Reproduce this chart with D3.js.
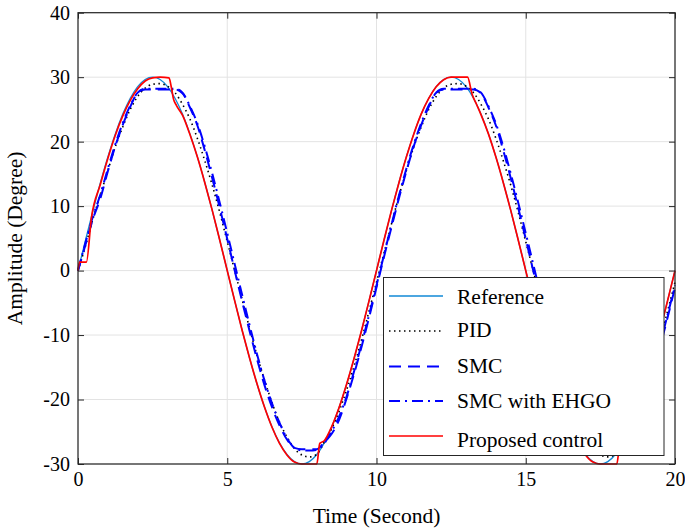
<!DOCTYPE html>
<html><head><meta charset="utf-8">
<script src="https://cdn.jsdelivr.net/npm/d3@7"></script>
<style>
html,body{margin:0;padding:0;background:#fff;}
svg{display:block;}
text{font-family:"Liberation Serif","Times New Roman",serif;fill:#000;}
</style></head>
<body>
<svg id="chart" width="685" height="532"></svg>
<script>
// ---- data ----
const xTicks = [0, 5, 10, 15, 20];
const xTickLabels = ["0", "5", "10", "15", "20"];
const yTicks = [-30, -20, -10, 0, 10, 20, 30, 40];
const yTickLabels = ["-30", "-20", "-10", "0", "10", "20", "30", "40"];
const seriesNames = ["Reference", "PID", "SMC", "SMC with EHGO", "Proposed control"];

const time = [0,0.25,0.5,0.75,1,1.25,1.5,1.75,2,2.25,2.5,2.75,3,3.25,3.5,3.75,4,4.25,4.5,4.75,
  5,5.25,5.5,5.75,6,6.25,6.5,6.75,7,7.25,7.5,7.75,8,8.25,8.5,8.75,9,9.25,9.5,9.75,
  10,10.25,10.5,10.75,11,11.25,11.5,11.75,12,12.25,12.5,12.75,13,13.25,13.5,13.75,14,14.25,14.5,14.75,
  15,15.25,15.5,15.75,16,16.25,16.5,16.75,17,17.25,17.5,17.75,18,18.25,18.5,18.75,19,19.25,19.5,19.75,20];

const reference = [0,4.69,9.27,13.62,17.63,21.21,24.27,26.73,28.53,29.63,30,29.63,28.53,26.73,24.27,21.21,17.63,13.62,9.27,4.69,
  0,-4.69,-9.27,-13.62,-17.63,-21.21,-24.27,-26.73,-28.53,-29.63,-30,-29.63,-28.53,-26.73,-24.27,-21.21,-17.63,-13.62,-9.27,-4.69,
  0,4.69,9.27,13.62,17.63,21.21,24.27,26.73,28.53,29.63,30,29.63,28.53,26.73,24.27,21.21,17.63,13.62,9.27,4.69,
  0,-4.69,-9.27,-13.62,-17.63,-21.21,-24.27,-26.73,-28.53,-29.63,-30,-29.63,-28.53,-26.73,-24.27,-21.21,-17.63,-13.62,-9.27,-4.69,0];

const pid = [0,3.8,8.0,11.8,15.5,19.2,22.3,25.0,27.0,28.3,28.9,29.0,28.6,27.6,25.8,23.5,20.5,17.0,13.2,9.0,
  4.5,0,-4.5,-9.0,-13.2,-17.0,-20.5,-23.5,-25.8,-27.6,-28.6,-28.9,-28.5,-26.6,-24.5,-21.8,-18.5,-14.8,-10.7,-6.3,
  -1.8,2.7,7.2,11.5,15.5,19.2,22.3,25.0,27.0,28.3,28.9,29.0,28.6,27.6,25.8,23.5,20.5,17.0,13.2,9.0,
  4.5,0,-4.5,-9.0,-13.2,-17.0,-20.5,-23.5,-25.8,-27.6,-28.6,-28.9,-28.5,-26.6,-24.5,-21.8,-18.5,-14.8,-10.7,-6.3,-1.8];

const smc = [0,4.0,8.0,11.2,15.4,19.3,22.6,25.4,27.6,28.1,28.1,28.1,28.1,28.1,27.5,25.3,22.5,18.6,14.3,9.7,
  4.9,0,-4.8,-9.4,-13.8,-17.8,-21.2,-24.0,-26.2,-27.5,-27.7,-27.7,-27.7,-26.6,-25.3,-23.1,-19.8,-16.0,-11.8,-7.3,
  -2.6,2.1,6.7,11.2,15.4,19.3,22.6,25.4,27.6,28.1,28.1,28.1,28.1,28.1,27.5,25.3,22.5,18.6,14.3,9.7,
  4.9,0,-4.8,-9.4,-13.8,-17.8,-21.2,-24.0,-26.2,-27.5,-27.7,-27.7,-27.7,-26.6,-25.3,-23.1,-19.8,-16.0,-11.8,-7.3,-2.6];

const smcEhgo = [0,4.3,8.4,11.8,15.8,19.6,22.9,25.6,27.6,28.2,28.2,28.2,28.2,28.2,27.6,25.5,22.8,19.2,15.0,10.5,
  5.8,1.0,-3.8,-8.5,-13.0,-17.1,-20.6,-23.6,-26.0,-27.5,-27.9,-27.9,-27.8,-26.8,-24.9,-22.6,-19.5,-15.6,-11.4,-6.9,
  -2.3,2.4,7.1,11.6,15.8,19.6,22.9,25.6,27.6,28.2,28.2,28.2,28.2,28.2,27.6,25.5,22.8,19.2,15.0,10.5,
  5.8,1.0,-3.8,-8.5,-13.0,-17.1,-20.6,-23.6,-26.0,-27.5,-27.9,-27.9,-27.8,-26.8,-24.9,-22.6,-19.5,-15.6,-11.4,-6.9,-2.3];

const proposedTime = [0,0.05,0.28,0.45,0.75,1,1.25,1.5,1.75,2,2.25,2.5,2.75,3.05,3.12,3.2,3.3,3.5,3.75,4,4.25,4.5,4.75,
  5,5.25,5.5,5.75,6,6.25,6.5,6.75,7,7.25,7.5,7.75,8.0,8.1,8.25,8.5,8.75,9,9.25,9.5,9.75,
  10,10.25,10.5,10.75,11,11.25,11.5,11.75,12,12.25,12.5,12.75,13.05,13.2,13.35,13.5,13.75,14,14.25,14.5,14.75,
  15,15.25,15.5,15.75,16,16.25,16.5,16.75,17,17.25,17.5,17.75,18.05,18.15,18.3,18.5,18.75,19,19.25,19.5,19.75,20];
const proposed = [0,1.3,1.3,8.2,13.4,17.4,21.0,24.0,26.4,28.2,29.4,29.9,30.0,29.9,28.6,26.6,25.6,24.1,21.1,17.6,13.6,9.3,4.7,
  0,-4.7,-9.3,-13.6,-17.6,-21.2,-24.3,-26.8,-28.6,-29.7,-30,-30,-30,-26.8,-26.4,-24.2,-21.2,-17.6,-13.6,-9.3,-4.7,
  0,4.7,9.3,13.6,17.6,21.2,24.3,26.7,28.5,29.6,30,30,30,27.4,25.8,24.2,21.2,17.6,13.6,9.3,4.7,
  0,-4.7,-9.3,-13.6,-17.6,-21.2,-24.3,-26.8,-28.6,-29.7,-30,-30,-30,-26.9,-26.0,-24.2,-21.2,-17.6,-13.6,-9.3,-4.7,0];

// ---- drawing ----
const svg = d3.select("#chart");
const L = 78, R = 675, T = 12.7, B = 464;
const x = d3.scaleLinear().domain([0, 20]).range([L, R]);
const y = d3.scaleLinear().domain([-30, 40]).range([B, T]);

// grid
const grid = svg.append("g").attr("stroke", "#e3e3e3").attr("stroke-width", 1);
xTicks.forEach(t => grid.append("line").attr("x1", x(t)).attr("x2", x(t)).attr("y1", T).attr("y2", B));
yTicks.forEach(t => grid.append("line").attr("x1", L).attr("x2", R).attr("y1", y(t)).attr("y2", y(t)));

// lines
const styles = [
  {color: "#1189d6", width: 1.3, dash: null},
  {color: "#000000", width: 1.6, dash: "1.5,3.5"},
  {color: "#0000ff", width: 2.0, dash: "12,7"},
  {color: "#0000ff", width: 2.0, dash: "11,5,2,5"},
  {color: "#ff0000", width: 1.7, dash: null}
];
const seriesData = [
  d3.zip(time, reference),
  d3.zip(time, pid),
  d3.zip(time, smc),
  d3.zip(time, smcEhgo),
  d3.zip(proposedTime, proposed)
];
const line = d3.line().x(d => x(d[0])).y(d => y(d[1])).curve(d3.curveMonotoneX);
const plot = svg.append("g");
seriesData.forEach((data, i) => {
  const p = plot.append("path").datum(data).attr("d", line)
    .attr("fill", "none").attr("stroke", styles[i].color)
    .attr("stroke-width", styles[i].width).attr("stroke-linejoin", "round");
  if (styles[i].dash) p.attr("stroke-dasharray", styles[i].dash);
});

// axes (inward ticks, box)
const fontTick = 20;
const xAxis = svg.append("g").attr("transform", `translate(0,${B})`)
  .call(d3.axisBottom(x).tickValues(xTicks).tickFormat((d, i) => xTickLabels[i]).tickSizeInner(-6).tickSizeOuter(0).tickPadding(8));
const xAxisTop = svg.append("g").attr("transform", `translate(0,${T})`)
  .call(d3.axisTop(x).tickValues(xTicks).tickFormat("").tickSizeInner(-6).tickSizeOuter(0));
const yAxis = svg.append("g").attr("transform", `translate(${L},0)`)
  .call(d3.axisLeft(y).tickValues(yTicks).tickFormat((d, i) => yTickLabels[i]).tickSizeInner(-6).tickSizeOuter(0).tickPadding(8));
const yAxisRight = svg.append("g").attr("transform", `translate(${R},0)`)
  .call(d3.axisRight(y).tickValues(yTicks).tickFormat("").tickSizeInner(-6).tickSizeOuter(0));
[xAxis, xAxisTop, yAxis, yAxisRight].forEach(g => {
  g.select(".domain").remove();
  g.selectAll(".tick line").attr("stroke", "#262626").attr("stroke-width", 1);
  g.selectAll("text").attr("font-size", fontTick).attr("font-family", "Liberation Serif, Times New Roman, serif").attr("fill", "#000");
});
svg.append("rect").attr("x", L).attr("y", T).attr("width", R - L).attr("height", B - T)
  .attr("fill", "none").attr("stroke", "#262626").attr("stroke-width", 1.2);

// axis labels
svg.append("text").attr("x", (L + R) / 2).attr("y", 523).attr("text-anchor", "middle")
  .attr("font-size", 21.5).text("Time (Second)");
svg.append("text").attr("transform", `translate(22,${(T + B) / 2}) rotate(-90)`).attr("text-anchor", "middle")
  .attr("font-size", 21.5).text("Amplitude (Degree)");

// legend
const leg = svg.append("g");
leg.append("rect").attr("x", 383.5).attr("y", 277.5).attr("width", 280.5).attr("height", 178)
  .attr("fill", "#fff").attr("stroke", "#262626").attr("stroke-width", 1);
const legLineY = [296, 331, 366.5, 401, 436];
const legTextY = [303.5, 337, 373, 408, 447];
seriesNames.forEach((name, i) => {
  const l = leg.append("line").attr("x1", 389).attr("x2", 443).attr("y1", legLineY[i]).attr("y2", legLineY[i])
    .attr("stroke", styles[i].color).attr("stroke-width", styles[i].width);
  if (styles[i].dash) l.attr("stroke-dasharray", styles[i].dash);
  leg.append("text").attr("x", 457).attr("y", legTextY[i]).attr("font-size", 21.5).text(name);
});
</script>
</body></html>
